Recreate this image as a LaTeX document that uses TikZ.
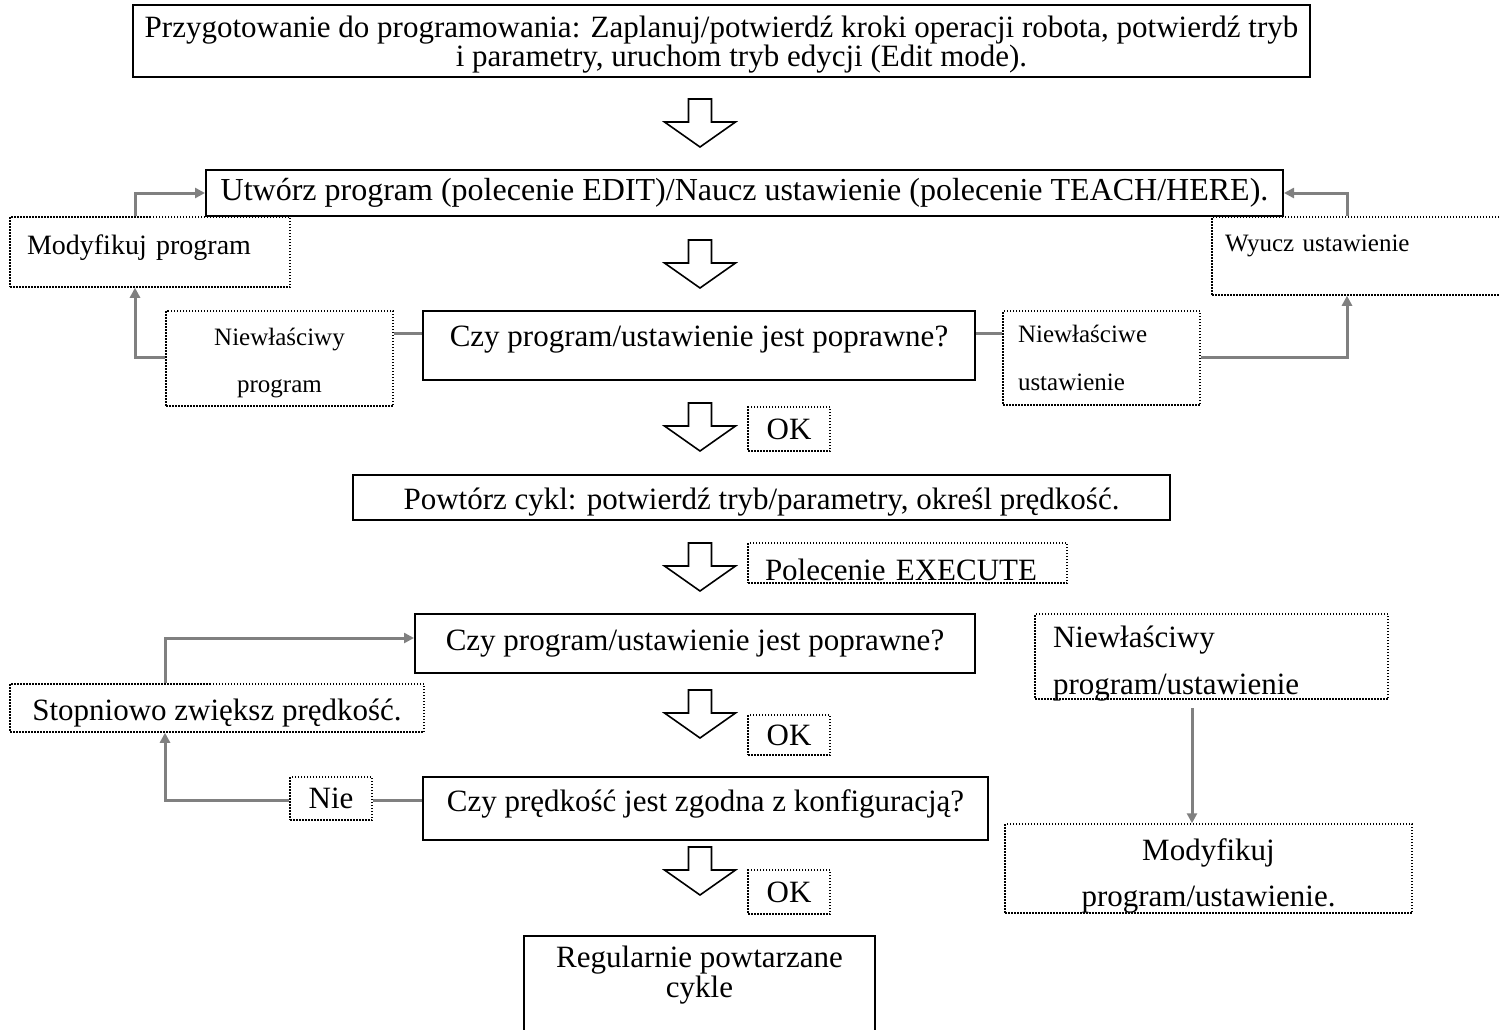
\documentclass[tikz,border=0pt]{standalone}
\usepackage{fontspec}
\setmainfont{Liberation Serif}
\usetikzlibrary{arrows.meta}
\definecolor{conncol}{RGB}{128,128,128}
\newcommand\bigf{\fontsize{15.5}{18.5}\selectfont}
\newcommand\smallf{\fontsize{12.5}{15}\selectfont}
% vadj{extra height}{extra depth}{text}: shifts text inside a centred node
\newcommand\vadj[3]{\raisebox{0pt}[\dimexpr\height+#1\relax][\dimexpr\depth+#2\relax]{#3}}
\newcommand\nodepth[1]{\raisebox{0pt}[\height][0pt]{#1}}
\newcommand\flowarrow[2]{\draw[blk] ({#1-11.5},#2) -- ({#1+11.5},#2) -- ({#1+11.5},{#2+23}) -- ({#1+35.5},{#2+23}) -- (#1,{#2+48}) -- ({#1-35.5},{#2+23}) -- ({#1-11.5},{#2+23}) -- cycle;}
\begin{document}
\begin{tikzpicture}[x=0.5pt,y=-0.5pt,
  box/.style={draw, line width=1pt, inner sep=0pt, font=\bigf, align=center},
  dbox/.style={draw, line width=0.75pt, dash pattern=on 0.75pt off 0.75pt, inner sep=0pt},
  conn/.style={draw=conncol, line width=1.5pt},
  arr/.style={conn, -{Triangle[length=5pt,width=5pt]}},
  blk/.style={draw, line width=0.8pt, fill=white, line join=miter}]
\useasboundingbox (0,0) rectangle (1500,1029);
\clip (0,0) rectangle (1500,1029);

% main boxes
\node[box, minimum width=588.5pt, minimum height=36pt, font=\fontsize{15.5}{14.5}\selectfont] (b1) at (721.5,41)
  {Przygotowanie do programowania: Zaplanuj/potwierdź kroki operacji robota, potwierdź tryb\\ \nodepth{\hspace*{20pt}i parametry, uruchom tryb edycji (Edit mode).}};
\node[box, minimum width=538.5pt, minimum height=23pt, font=\fontsize{16}{19}\selectfont] (b2) at (744.5,193)
  {Utwórz program (polecenie EDIT)/Naucz ustawienie (polecenie TEACH/HERE).};
\node[box, minimum width=276pt, minimum height=34.5pt] (b3) at (699,345.5)
  {\vadj{0pt}{6pt}{Czy program/ustawienie jest poprawne?}};
\node[box, minimum width=408.5pt, minimum height=22.5pt] (b4) at (761.5,497.5)
  {\vadj{5pt}{0pt}{Powtórz cykl: potwierdź tryb/parametry, określ prędkość.}};
\node[box, minimum width=280pt, minimum height=29.5pt] (b5) at (695,643.5)
  {Czy program/ustawienie jest poprawne?};
\node[box, minimum width=282.5pt, minimum height=31.5pt] (b6) at (705.5,808.5)
  {\vadj{0pt}{5pt}{Czy prędkość jest zgodna z konfiguracją?}};
\node[box, minimum width=175.5pt, minimum height=54.5pt, font=\fontsize{15.5}{15}\selectfont] (b7) at (699.5,990.5)
  {Regularnie powtarzane\\cykle\\\vadj{0pt}{4pt}{~}};

% dotted boxes
\node[dbox, minimum width=140pt, minimum height=35pt, text width=123pt, inner xsep=8.5pt, align=left, font=\fontsize{14}{16}\selectfont] (mod) at (150,252)
  {\vadj{0pt}{4pt}{Modyfikuj program}};
\node[dbox, minimum width=113.5pt, minimum height=47.5pt, align=center, font=\fontsize{12.5}{23.5}\selectfont] (np) at (279.5,358.5)
  {\vadj{4pt}{0pt}{Niewłaściwy}\\program};
\node[dbox, minimum width=98.5pt, minimum height=47pt, text width=83.5pt, inner xsep=7.5pt, align=left, font=\fontsize{12.5}{24}\selectfont] (nu) at (1101.5,358)
  {Niewłaściwe\\ustawienie};
\node[dbox, minimum width=149pt, minimum height=39pt, text width=136pt, inner xsep=6.5pt, align=left, font=\smallf] (wy) at (1361,256)
  {\vadj{0pt}{10pt}{Wyucz ustawienie}};
\node[dbox, minimum width=41pt, minimum height=22pt, font=\bigf] (ok1) at (789,429) {OK};
\node[dbox, minimum width=159.5pt, minimum height=20pt, text width=142.5pt, inner xsep=8.5pt, align=left, font=\bigf] (ex) at (907.5,563)
  {\mbox{\vadj{7pt}{0pt}{Polecenie EXECUTE}}};
\node[dbox, minimum width=207pt, minimum height=24pt, font=\bigf] (st) at (217,708)
  {\vadj{5pt}{0pt}{Stopniowo zwiększ prędkość.}};
\node[dbox, minimum width=41pt, minimum height=20pt, font=\bigf] (ok2) at (789,735) {OK};
\node[dbox, minimum width=41pt, minimum height=21.5pt, font=\bigf] (nie) at (331,798.5) {Nie};
\node[dbox, minimum width=41pt, minimum height=22pt, font=\bigf] (ok3) at (789,892) {OK};
\node[dbox, minimum width=176.5pt, minimum height=42.5pt, text width=158.5pt, inner xsep=9pt, align=left, font=\fontsize{15.5}{23.5}\selectfont] (npu) at (1211.5,656.5)
  {\vadj{3.5pt}{0pt}{Niewłaściwy}\\\nodepth{program/ustawienie}};
\node[dbox, minimum width=203.5pt, minimum height=44.5pt, align=center, font=\fontsize{15.5}{23}\selectfont] (mpu) at (1208.5,868.5)
  {\vadj{3.7pt}{0pt}{Modyfikuj}\\\nodepth{program/ustawienie.}};

% block arrows
\flowarrow{700}{99}
\flowarrow{700}{240}
\flowarrow{700}{403}
\flowarrow{700}{543}
\flowarrow{700}{690}
\flowarrow{700}{847}

% helper coordinates
\coordinate (cL) at (135,0);
\coordinate (cR) at (1347,0);
\coordinate (cS) at (165,0);
\coordinate (cM) at (1192,0);
\coordinate (yA) at (0,333);
\coordinate (yB) at (0,357);
\coordinate (yC) at (0,638);
\coordinate (yD) at (0,800);

% connectors
\draw[conn] (b3.west |- yA) -- (np.east |- yA);
\draw[arr] (np.west |- yB) -| (cL |- mod.south);
\draw[arr] (cL |- mod.north) |- (b2.west);
\draw[conn] (b3.east |- yA) -- (nu.west |- yA);
\draw[arr] (nu.east |- yB) -| (cR |- wy.south);
\draw[arr] (cR |- wy.north) |- (b2.east);
\draw[arr] (cS |- st.north) |- (b5.west |- yC);
\draw[conn] (b6.west |- yD) -- (nie.east |- yD);
\draw[arr] (nie.west |- yD) -| (cS |- st.south);
\draw[arr, shorten <=4pt] (cM |- npu.south) -- (cM |- mpu.north);
\end{tikzpicture}
\end{document}
